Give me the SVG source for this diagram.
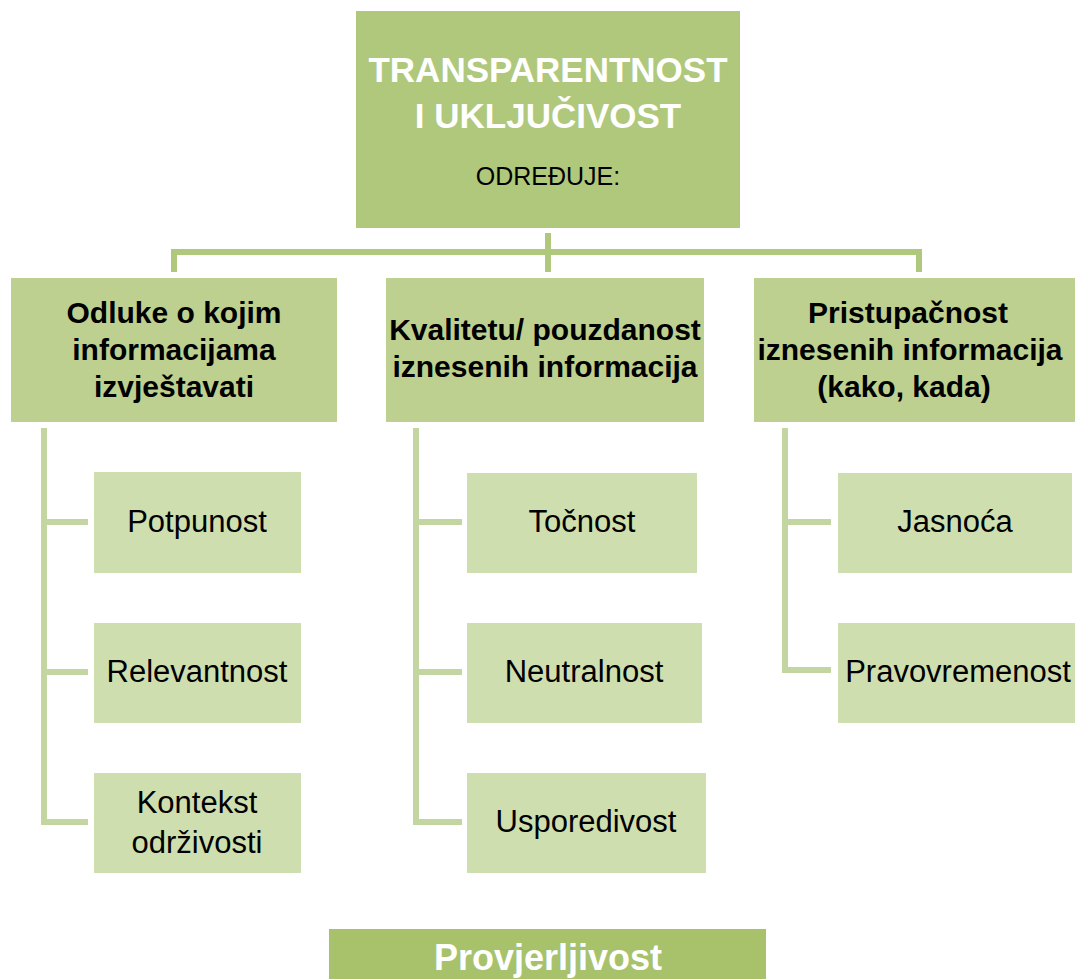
<svg xmlns="http://www.w3.org/2000/svg" width="1075" height="979" viewBox="0 0 1075 979">
<style>
.top{fill:#b0c87b}
.l2{fill:#bdd08f}
.leaf{fill:#cfdeae}
.bot{fill:#a8c26c}
.c1{fill:none;stroke:#b0c87b;stroke-width:6}
.c2{fill:none;stroke:#c3d5a0;stroke-width:6}
text{font-family:"Liberation Sans",Arial,sans-serif;text-anchor:middle}
.tt{font-weight:bold;fill:#fff;font-size:35px}
.sub{fill:#000;font-size:25px}
.h2{font-weight:bold;fill:#000;font-size:30px}
.lf{fill:#000;font-size:31px}
.bt{font-weight:bold;fill:#fff;font-size:36px}
</style>
<rect width="1075" height="979" fill="#fff"/>
<g id="connectors">
<path class="c1" d="M548 233V272M174 272V252H919V272"/>
<path class="c2" d="M44 428V822H88M44 522H88M44 672H88"/>
<path class="c2" d="M416 428V822H462M416 522H462M416 672H462"/>
<path class="c2" d="M785 428V670H831M785 522H831"/>
</g>
<g id="root">
<rect class="top" x="356" y="11" width="384" height="217"/>
<text class="tt" x="548" y="82">TRANSPARENTNOST</text>
<text class="tt" x="548" y="128">I UKLJUČIVOST</text>
<text class="sub" x="548" y="185">ODREĐUJE:</text>
</g>
<g id="odluke">
<rect class="l2" x="11" y="278" width="326" height="144"/>
<text class="h2" x="174" y="323">Odluke o kojim</text>
<text class="h2" x="174" y="360">informacijama</text>
<text class="h2" x="174" y="397">izvještavati</text>
</g>
<g id="kvaliteta">
<rect class="l2" x="386" y="278" width="318" height="144"/>
<text class="h2" x="545" y="340">Kvalitetu/ pouzdanost</text>
<text class="h2" x="545" y="377">iznesenih informacija</text>
</g>
<g id="pristupacnost">
<rect class="l2" x="754" y="278" width="321" height="144"/>
<text class="h2" x="908" y="323">Pristupačnost</text>
<text class="h2" x="910" y="360">iznesenih informacija</text>
<text class="h2" x="904" y="397">(kako, kada)</text>
</g>
<g id="potpunost">
<rect class="leaf" x="94" y="472" width="207" height="101"/>
<text class="lf" x="197" y="532">Potpunost</text>
</g>
<g id="relevantnost">
<rect class="leaf" x="94" y="623" width="207" height="100"/>
<text class="lf" x="197" y="682">Relevantnost</text>
</g>
<g id="kontekst">
<rect class="leaf" x="94" y="773" width="207" height="100"/>
<text class="lf" x="197" y="813">Kontekst</text>
<text class="lf" x="197" y="853">održivosti</text>
</g>
<g id="tocnost">
<rect class="leaf" x="467" y="473" width="230" height="100"/>
<text class="lf" x="582" y="532">Točnost</text>
</g>
<g id="neutralnost">
<rect class="leaf" x="467" y="623" width="235" height="100"/>
<text class="lf" x="584" y="682">Neutralnost</text>
</g>
<g id="usporedivost">
<rect class="leaf" x="467" y="773" width="239" height="100"/>
<text class="lf" x="586" y="832">Usporedivost</text>
</g>
<g id="jasnoca">
<rect class="leaf" x="838" y="473" width="234" height="100"/>
<text class="lf" x="955" y="532">Jasnoća</text>
</g>
<g id="pravovremenost">
<rect class="leaf" x="838" y="623" width="237" height="100"/>
<text class="lf" x="958" y="682">Pravovremenost</text>
</g>
<g id="provjerljivost">
<rect class="bot" x="329" y="929" width="437" height="50"/>
<text class="bt" x="548" y="970">Provjerljivost</text>
</g>
</svg>
